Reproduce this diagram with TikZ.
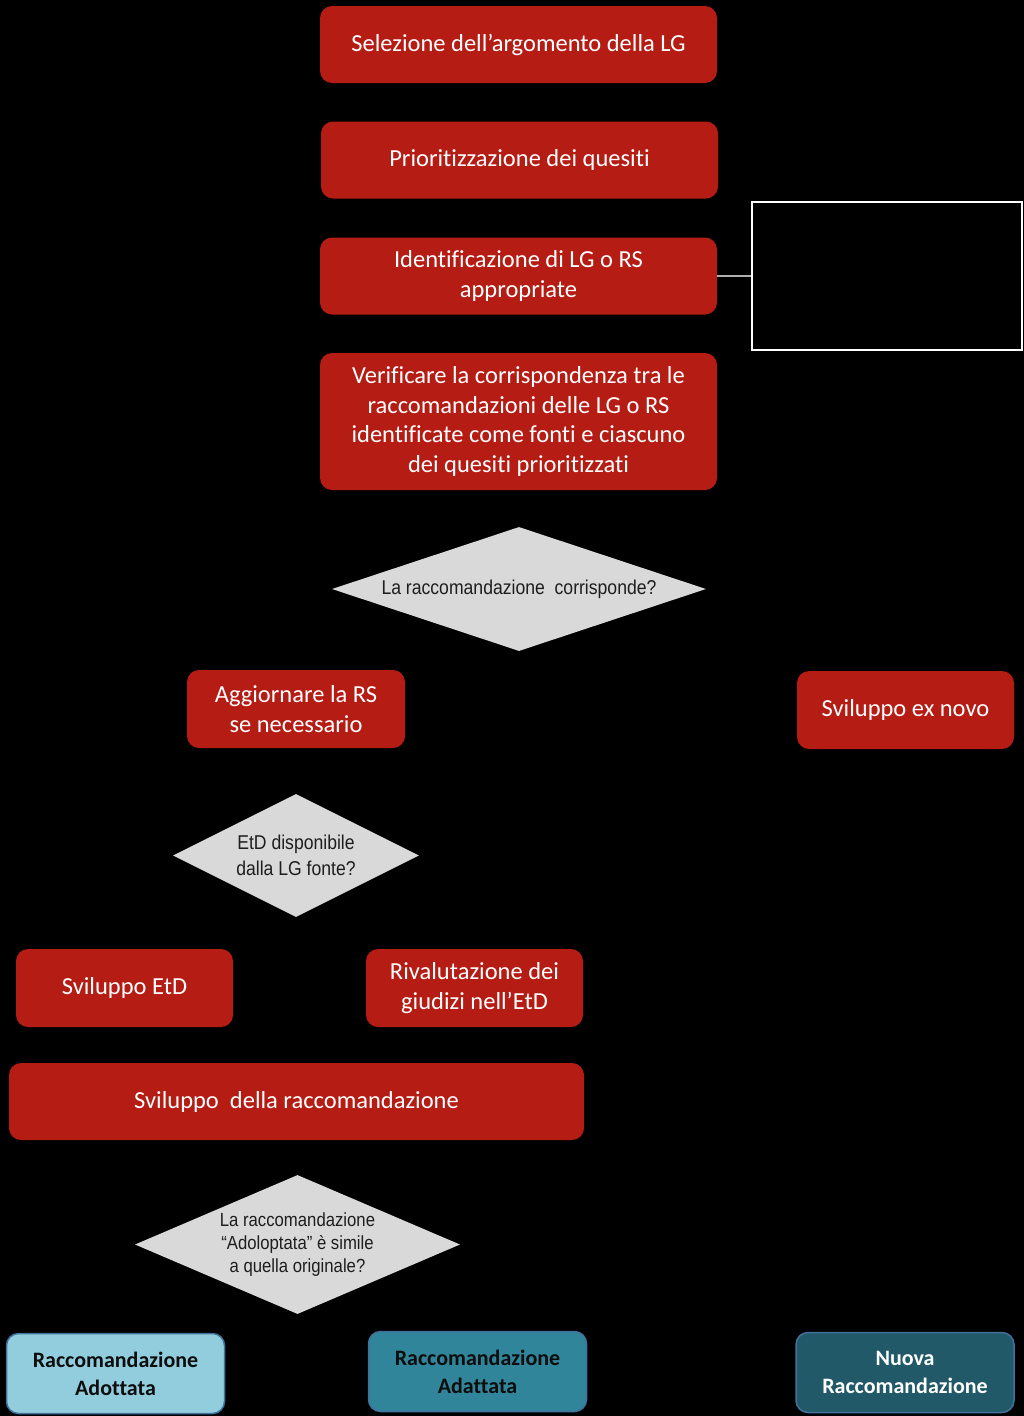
\documentclass[tikz,border=0pt]{standalone}
\usepackage{fontspec}
\setmainfont{Carlito}[RawFeature={-liga;-clig;-calt;-dlig}]
\newfontfamily\narrowfont[FakeStretch=0.88]{Liberation Sans}
\usepackage{tikz}
\usetikzlibrary{shapes.geometric}
\definecolor{boxred}{RGB}{181,28,20}
\definecolor{qgrey}{RGB}{217,217,217}
\definecolor{qtext}{RGB}{30,30,30}
\definecolor{pale}{RGB}{146,205,222}
\definecolor{mid}{RGB}{49,133,155}
\definecolor{deep}{RGB}{33,89,104}
\definecolor{rim}{RGB}{65,113,156}
\tikzstyle{redbox} = [fill=boxred, text=white, rectangle, rounded corners=12pt,
    inner sep=0pt, align=center, minimum height=77pt,
    font=\fontsize{24.5}{29.5}\selectfont]
\tikzstyle{question} = [diamond, fill=qgrey, text=qtext, inner sep=0pt,
    align=center, font=\narrowfont\fontsize{20}{26}\selectfont]
\tikzstyle{outcome} = [draw=rim, line width=1.5pt, rectangle, rounded corners=12pt,
    minimum width=218pt, minimum height=80pt, align=center,
    font=\bfseries\fontsize{22}{28}\selectfont]

\begin{document}
\begin{tikzpicture}[x=1pt, y=-1pt]
                \fill[black] (0,0) rectangle (1024,1416);
                \useasboundingbox (0,0) rectangle (1024,1416);
                % main column
                \node [redbox, minimum width=397pt] (box1) at (518.5,44.5) {Selezione dell’argomento della LG};
                \node [redbox, minimum width=397pt] (box2) at (519.5,160) {Prioritizzazione dei quesiti};
                \node [redbox, minimum width=397pt] (box3) at (518.5,276) {Identificazione di LG o RS\\appropriate};
                \node [redbox, minimum width=397pt, minimum height=137pt] (box4) at (518.5,421.5)
                    {Verificare la corrispondenza tra le\\raccomandazioni delle LG o RS\\identificate come fonti e ciascuno\\dei quesiti prioritizzati};
                \node [draw=white, line width=2pt, minimum width=270pt, minimum height=148pt] (note) at (887,276) {};
                \draw [draw=qgrey!80!black, line width=1.5pt] (box3) -- (note);
                \node [question, aspect=3, minimum width=374pt, minimum height=124pt] (q1) at (519,589)
                    {La raccomandazione\ \ corrisponde?};
                % branches
                \node [redbox, minimum width=218pt, minimum height=78pt] (box5) at (296,709) {Aggiornare la RS\\se necessario};
                \node [redbox, minimum width=217pt, minimum height=78pt] (box6) at (905.5,710) {Sviluppo ex novo};
                \node [question, aspect=2, minimum width=246pt, minimum height=123pt] (q2) at (296,855.5)
                    {EtD disponibile\\dalla LG fonte?};
                \node [redbox, minimum width=217pt, minimum height=78pt] (box7) at (124.5,988) {Sviluppo EtD};
                \node [redbox, minimum width=217pt, minimum height=78pt] (box8) at (474.5,988) {Rivalutazione dei\\giudizi nell’EtD};
                \node [redbox, minimum width=575pt] (box9) at (296.5,1101.5) {Sviluppo\ \ della raccomandazione};
                \node [question, aspect=2.34, minimum width=325pt, minimum height=139pt,
                    font=\narrowfont\fontsize{19}{23}\selectfont] (q3) at (297.5,1244.5)
                    {La raccomandazione\\“Adoloptata” è simile\\a quella originale?};
                % outcomes
                \node [outcome, fill=pale, text=black!95] (res1) at (115.5,1373.5) {Raccomandazione\\Adottata};
                \node [outcome, fill=mid, text=black!95] (res2) at (477.5,1371.5) {Raccomandazione\\Adattata};
                \node [outcome, fill=deep, text=white] (res3) at (905,1372.5) {Nuova\\Raccomandazione};
            \end{tikzpicture}
\end{document}
